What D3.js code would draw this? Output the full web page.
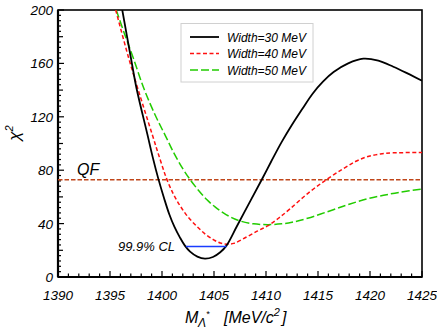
<!DOCTYPE html>
<html><head><meta charset="utf-8">
<script src="https://cdn.jsdelivr.net/npm/d3@7/dist/d3.min.js"></script>
<style>body{margin:0;background:#fff}svg{display:block}</style>
</head><body><svg id="c" width="437" height="332" font-family="Liberation Sans, Arial, sans-serif" font-style="italic"></svg>
<script>
const seriesNames = ["Width=30 MeV","Width=40 MeV","Width=50 MeV"];
const massW30 = [1396.18,1396.99,1397.56,1398.59,1399.1,1399.65,1400.2,1400.7,1401.2,1401.73,1402.2,1402.7,1403.4,1404.13,1404.9,1405.6,1406.2,1407.2,1408.5,1409.6,1410.5,1411.5,1412.5,1413.5,1414.5,1415.5,1416.5,1417.9,1419.36,1420.8,1422.24,1423.6,1425];
const chi2W30 = [200,165,141,107,90,73.5,59,47,37.5,29.5,23.5,19,15.3,13.8,15,18.5,23.5,38,57,73,86.5,101,114,126,137.5,146.5,153.5,160,163.5,162,157.5,152.5,147];
const massW40 = [1395.55,1396.76,1397.72,1399.07,1399.8,1400.45,1401.1,1401.73,1402.5,1403.34,1404.1,1404.93,1405.6,1406.2,1406.9,1408.14,1409.2,1410.2,1411.2,1412.3,1414,1415.8,1417.4,1418.6,1419.7,1421,1422.24,1425];
const chi2W40 = [200,165,140,106.5,88.5,73.5,62,53.5,45,38,32.5,28,25.5,24.6,25.2,30,34.5,38.5,44,51,62.5,72.9,81,86.5,90,92.2,93,93.2];
const massW50 = [1395.6,1396.4,1397.24,1398.27,1399.42,1400.38,1401.2,1402.05,1402.7,1403.5,1404.3,1405.1,1405.9,1406.7,1407.5,1408.8,1410.2,1411.5,1412.5,1414,1416.47,1418,1419.68,1421.3,1422.88,1425];
const chi2W50 = [200,182,164,141,120,105,92,80.5,73,65,58,52.5,48,44.5,42,39.8,39.2,39.8,41,44,50.4,54.5,58.4,61.2,63.5,65.9];
const qfLevel = 72.9;
const clLevel = 22.9;
const clRange = [1402.3, 1406.2];
const xTicks = [1390,1395,1400,1405,1410,1415,1420,1425];
const yTicks = [0,40,80,120,160,200];
const colors = ["#000000","#ff1010","#22cc00"];
const dashes = [null,"4,2.5","8,3"];

const svg = d3.select("#c");
const x = d3.scaleLinear().domain([1390,1425]).range([58,422]);
const y = d3.scaleLinear().domain([0,200]).range([277,10]);

// frame
svg.append("rect").attr("x",58).attr("y",10).attr("width",364).attr("height",267)
  .attr("fill","none").attr("stroke","#000").attr("stroke-width",1.6);

// ticks
const g = svg.append("g").attr("stroke","#000").attr("stroke-width",1.2);
d3.range(1390,1426,1).forEach(v=>{
  const L = v%5===0 ? 6 : 3.5;
  g.append("line").attr("x1",x(v)).attr("x2",x(v)).attr("y1",y(0)).attr("y2",y(0)-L);
});
d3.range(0,201,4).forEach(v=>{
  const L = v%40===0 ? 6 : (v%20===0 ? 5 : 3);
  g.append("line").attr("x1",x(1390)).attr("x2",x(1390)+L).attr("y1",y(v)).attr("y2",y(v));
});
svg.append("line").attr("x1",58).attr("x2",422).attr("y1",277).attr("y2",277).attr("stroke","#000").attr("stroke-width",2.2);
svg.append("line").attr("x1",58).attr("x2",58).attr("y1",10).attr("y2",277).attr("stroke","#000").attr("stroke-width",2.2);

// tick labels
svg.selectAll(".xt").data(xTicks).enter().append("text").attr("class","xt")
  .attr("x",d=>x(d)).attr("y",300).attr("text-anchor","middle").attr("font-size",13.5).text(d=>d);
svg.selectAll(".yt").data(yTicks).enter().append("text").attr("class","yt")
  .attr("x",53).attr("y",d=>y(d)+5).attr("text-anchor","end").attr("font-size",13.5).text(d=>d);

// QF line
svg.append("line").attr("x1",x(1390)).attr("x2",x(1425)).attr("y1",y(qfLevel)).attr("y2",y(qfLevel))
  .attr("stroke","#c0461a").attr("stroke-width",1.4).attr("stroke-dasharray","4.5,2");
svg.append("text").attr("x",77).attr("y",175).attr("font-size",16).text("QF");

// curves
const line = d3.line().x(d=>x(d[0])).y(d=>y(d[1])).curve(d3.curveCatmullRom.alpha(0.5));
const data = [d3.zip(massW30,chi2W30), d3.zip(massW40,chi2W40), d3.zip(massW50,chi2W50)];
svg.append("defs").append("clipPath").attr("id","clip").append("rect")
  .attr("x",58).attr("y",10).attr("width",364).attr("height",267);
const cg = svg.append("g").attr("clip-path","url(#clip)");
[2,1,0].forEach(i=>{
  cg.append("path").attr("d",line(data[i])).attr("fill","none").attr("stroke",colors[i])
    .attr("stroke-width",i===0?1.8:1.5).attr("stroke-dasharray",dashes[i]);
});

// CL line
svg.append("line").attr("x1",x(clRange[0])).attr("x2",x(clRange[1])).attr("y1",y(clLevel)).attr("y2",y(clLevel))
  .attr("stroke","#1a3cff").attr("stroke-width",1.6);
svg.append("text").attr("x",118).attr("y",251).attr("font-size",13).text("99.9% CL");

// legend
svg.append("rect").attr("x",181).attr("y",23.5).attr("width",132).attr("height",58.5)
  .attr("fill","#fff").attr("stroke","#d0d0d0").attr("stroke-width",1);
seriesNames.forEach((n,i)=>{
  const yy = 37 + i*16.5;
  svg.append("line").attr("x1",190).attr("x2",219).attr("y1",yy).attr("y2",yy)
    .attr("stroke",colors[i]).attr("stroke-width",i===0?1.8:1.5).attr("stroke-dasharray",dashes[i]);
  svg.append("text").attr("x",227).attr("y",yy+4.5).attr("font-size",12).text(n);
});

// axis titles
svg.append("text").attr("transform","translate(20,133) rotate(-90)").attr("text-anchor","middle")
  .attr("font-size",17).html('χ<tspan dy="-7" font-size="11">2</tspan>');
svg.append("text").attr("x",185).attr("y",323).attr("font-size",16).text("M");
svg.append("text").attr("x",198).attr("y",327).attr("font-size",12).text("Λ");
svg.append("text").attr("x",206).attr("y",317).attr("font-size",9).text("*");
const xl = svg.append("text").attr("x",224).attr("y",323).attr("font-size",16);
xl.append("tspan").text("[MeV/c");
xl.append("tspan").attr("dy",-7).attr("font-size",11).text("2");
xl.append("tspan").attr("dy",7).attr("dx",2).text("]");
</script></body></html>
